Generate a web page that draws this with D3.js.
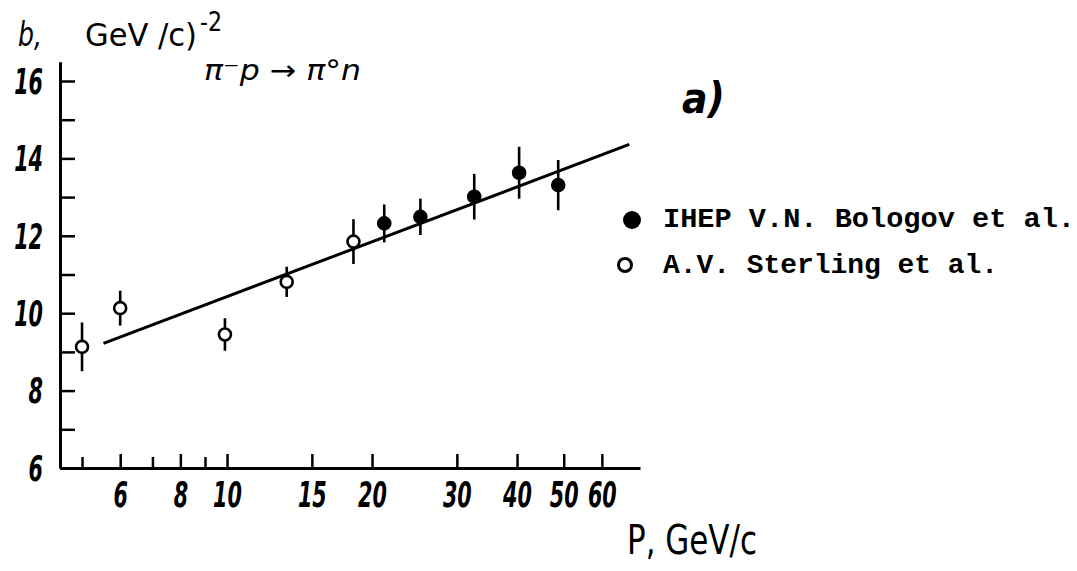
<!DOCTYPE html>
<html>
<head>
<meta charset="utf-8">
<script src="https://cdn.jsdelivr.net/npm/d3@7"></script>
<style>
  html, body { margin: 0; padding: 0; background: #fff; }
  svg { display: block; }
  .hand { font-family: "Liberation Sans Narrow", "DejaVu Sans Condensed", "DejaVu Sans", sans-serif; }
  .mono { font-family: "Liberation Mono", "DejaVu Sans Mono", monospace; font-weight: bold; }
</style>
</head>
<body>
<svg id="chart" width="1077" height="571"></svg>
<script>
// Differential cross-section slope b for pi- p -> pi0 n versus beam momentum
const pSterling   = [5.0, 6.0, 9.9, 13.3, 18.3];
const bSterling   = [9.13, 10.13, 9.45, 10.81, 11.85];
const errSterling = [0.63, 0.45, 0.42, 0.39, 0.58];

const pIhep   = [21.2, 25.2, 32.6, 40.4, 48.7];
const bIhep   = [12.32, 12.49, 13.01, 13.63, 13.31];
const errIhep = [0.49, 0.47, 0.59, 0.67, 0.65];

// straight-line fit in log(P)
const fitP = [5.54, 68.4];
const fitB = [9.22, 14.36];

const xLabelTicks = [6, 8, 10, 15, 20, 30, 40, 50, 60];
const xMinorTicks = [5, 7, 9];
const yTicks = [6, 7, 8, 9, 10, 11, 12, 13, 14, 15, 16];
const yLabelTicks = [6, 8, 10, 12, 14, 16];

const legendLabels = ["IHEP V.N. Bologov et al.", "A.V. Sterling et al."];

const svg = d3.select("#chart");

const x = d3.scaleLog().domain([4.5, 72]).range([60, 640]);
const y = d3.scaleLinear().domain([6, 16.5]).range([468, 61.65]);

const ink = "#000";
const squeeze = 0.64;   // narrow, hand-lettered digits

// x axis: labelled ticks
const xAxis = svg.append("g")
  .attr("transform", `translate(0,${y(6)})`)
  .call(d3.axisBottom(x).tickValues(xLabelTicks).tickFormat(d3.format("d"))
    .tickSize(-14).tickSizeOuter(0).tickPadding(16));
// x axis: unlabelled ticks
svg.append("g")
  .attr("transform", `translate(0,${y(6)})`)
  .call(d3.axisBottom(x).tickValues(xMinorTicks).tickFormat("")
    .tickSize(-11).tickSizeOuter(0))
  .select(".domain").remove();

const yAxis = svg.append("g")
  .attr("transform", `translate(${x(4.5)},0)`)
  .call(d3.axisLeft(y).tickValues(yTicks)
    .tickFormat(d => yLabelTicks.includes(d) ? d : "")
    .tickSize(-15).tickSizeOuter(0).tickPadding(17));

[xAxis, yAxis].forEach(g => {
  g.select(".domain").attr("stroke", ink).attr("stroke-width", 3);
});
svg.selectAll(".tick line").attr("stroke", ink).attr("stroke-width", 2.5);
svg.selectAll(".tick text")
  .attr("class", "hand")
  .attr("fill", ink)
  .attr("transform", `scale(${squeeze},1)`)
  .style("font-size", "36px")
  .style("font-weight", "bold")
  .style("font-style", "italic");
xAxis.selectAll(".tick text").attr("dy", "0.71em").attr("y", 13);
yAxis.selectAll(".tick text").attr("dy", "0.34em").attr("x", -17 / squeeze);

// fit line
svg.append("line")
  .attr("x1", x(fitP[0])).attr("y1", y(fitB[0]))
  .attr("x2", x(fitP[1])).attr("y2", y(fitB[1]))
  .attr("stroke", ink).attr("stroke-width", 3);

// points with error bars
function drawSeries(ps, bs, es, filled) {
  const data = ps.map((p, i) => ({ p, b: bs[i], e: es[i] }));
  const g = svg.append("g");
  g.selectAll("line.err").data(data).join("line")
    .attr("class", "err")
    .attr("x1", d => x(d.p)).attr("x2", d => x(d.p))
    .attr("y1", d => y(d.b - d.e)).attr("y2", d => y(d.b + d.e))
    .attr("stroke", ink).attr("stroke-width", 2.6);
  g.selectAll("circle").data(data).join("circle")
    .attr("cx", d => x(d.p)).attr("cy", d => y(d.b))
    .attr("r", filled ? 6 : 6)
    .attr("fill", filled ? ink : "#fff")
    .attr("stroke", ink).attr("stroke-width", 2.6);
}
drawSeries(pSterling, bSterling, errSterling, false);
drawSeries(pIhep, bIhep, errIhep, true);

// axis titles and annotations
svg.append("text").attr("class", "hand")
  .attr("x", 18).attr("y", 46).style("font-size", "34px").style("font-style", "italic")
  .attr("textLength", 24).attr("lengthAdjust", "spacingAndGlyphs")
  .text("b,");
svg.append("text").attr("class", "hand")
  .attr("x", 85).attr("y", 46).style("font-size", "32px")
  .attr("textLength", 112).attr("lengthAdjust", "spacingAndGlyphs")
  .text("GeV /c)");
svg.append("text").attr("class", "hand")
  .attr("x", 200).attr("y", 31).style("font-size", "26px")
  .attr("textLength", 22).attr("lengthAdjust", "spacingAndGlyphs")
  .text("-2");

svg.append("text")
  .attr("x", 204).attr("y", 80)
  .style("font-family", "'DejaVu Sans', sans-serif")
  .style("font-style", "italic").style("font-size", "28px")
  .attr("textLength", 157).attr("lengthAdjust", "spacingAndGlyphs")
  .text("π⁻p → π°n");

svg.append("text").attr("class", "hand")
  .attr("x", 682).attr("y", 113).style("font-size", "42px").style("font-style", "italic")
  .style("font-weight", "bold")
  .text("a)");

svg.append("text").attr("class", "hand")
  .attr("x", 627).attr("y", 554).style("font-size", "40px")
  .attr("textLength", 130).attr("lengthAdjust", "spacingAndGlyphs")
  .text("P, GeV/c");

// legend
const legend = svg.append("g");
legend.append("circle").attr("cx", 632).attr("cy", 220).attr("r", 9).attr("fill", ink);
legend.append("circle").attr("cx", 625).attr("cy", 265).attr("r", 6.5)
  .attr("fill", "#fff").attr("stroke", ink).attr("stroke-width", 3);
legend.append("text").attr("class", "mono")
  .attr("x", 663).attr("y", 227).style("font-size", "28px")
  .attr("textLength", 412).attr("lengthAdjust", "spacingAndGlyphs")
  .text(legendLabels[0]);
legend.append("text").attr("class", "mono")
  .attr("x", 663).attr("y", 273).style("font-size", "28px")
  .attr("textLength", 335).attr("lengthAdjust", "spacingAndGlyphs")
  .text(legendLabels[1]);
</script>
</body>
</html>
